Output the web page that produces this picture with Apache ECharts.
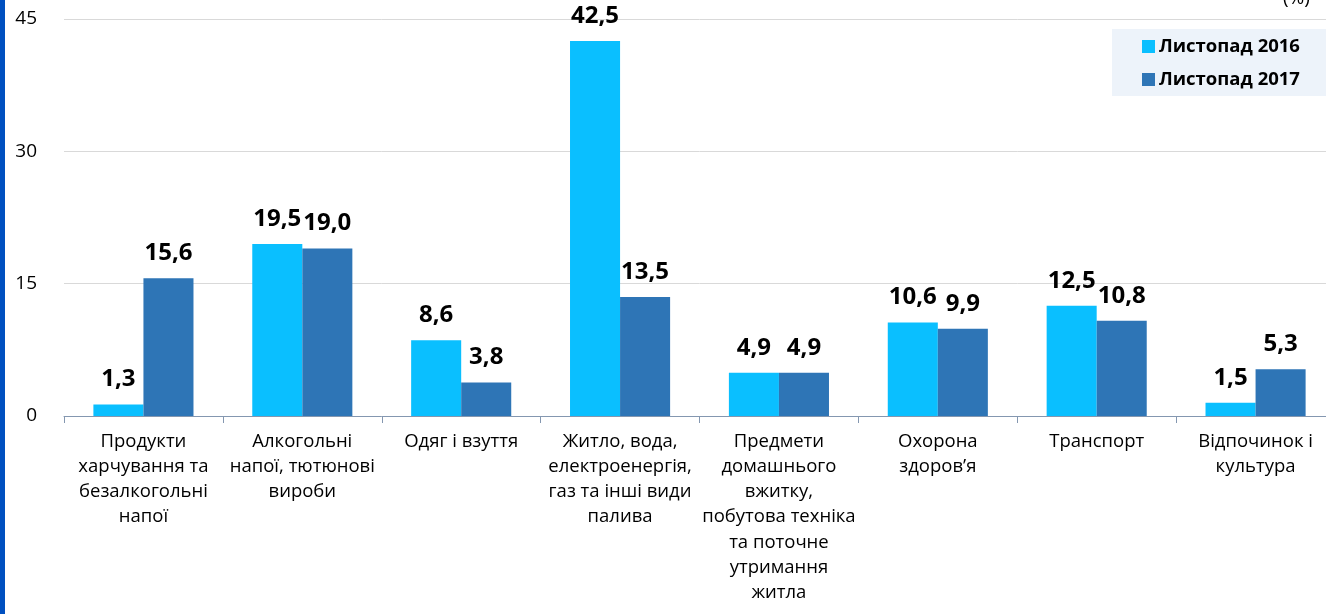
<!DOCTYPE html>
<html>
<head>
<meta charset="utf-8">
<script src="https://cdn.jsdelivr.net/npm/echarts@6/dist/echarts.min.js"></script>
<style>
html,body{margin:0;padding:0;background:#fff;overflow:hidden;width:1326px;height:614px;}
#chart{width:1340px;height:614px;}
</style>
</head>
<body>
<div id="chart"></div>
<script>
var categories = [
  'Продукти\nхарчування та\nбезалкогольні\nнапої',
  'Алкогольні\nнапої, тютюнові\nвироби',
  'Одяг і взуття',
  'Житло, вода,\nелектроенергія,\nгаз та інші види\nпалива',
  'Предмети\nдомашнього\nвжитку,\nпобутова техніка\nта поточне\nутримання\nжитла',
  'Охорона\nздоров’я',
  'Транспорт',
  'Відпочинок і\nкультура'
];
var seriesNames = ['Листопад 2016', 'Листопад 2017'];
var values2016 = [1.3, 19.5, 8.6, 42.5, 4.9, 10.6, 12.5, 1.5];
var values2017 = [15.6, 19.0, 3.8, 13.5, 4.9, 9.9, 10.8, 5.3];
var yTicks = [0, 15, 30, 45];
var unitText = '(%)';

var FONT = '"Open Sans", "DejaVu Sans", sans-serif';
var chart = echarts.init(document.getElementById('chart'), null, {renderer: 'canvas'});

function fmt(p) { return p.value.toFixed(1).replace('.', ','); }

var labelStyle = {
  show: true, position: 'top', distance: 13,
  fontFamily: FONT, fontSize: 24, fontWeight: 'bold', color: '#000',
  formatter: fmt
};

chart.setOption({
  animation: false,
  backgroundColor: '#fff',
  grid: {left: 64, width: 1271, top: 19, height: 397, containLabel: false},
  graphic: [
    {type: 'rect', left: 0, top: 0, shape: {width: 5, height: 614}, style: {fill: '#0050C0'}},
    {type: 'rect', left: 1112, top: 29, shape: {width: 230, height: 67}, style: {fill: '#EDF3FA'}, z: -1},
    {type: 'text', left: 1283, top: -11, style: {text: unitText, font: '19px ' + FONT, fill: '#000'}}
  ],
  legend: {
    orient: 'vertical', left: 1137, top: 32,
    itemWidth: 13, itemHeight: 13, itemGap: 14,
    icon: 'rect',
    textStyle: {fontFamily: FONT, fontSize: 18.5, fontWeight: 'bold', color: '#000', padding: [0, 0, 0, -1]},
    data: seriesNames
  },
  xAxis: {
    type: 'category', data: categories,
    axisLine: {lineStyle: {color: '#8497B0', width: 1}},
    axisTick: {show: true, alignWithLabel: false, length: 7, lineStyle: {color: '#8497B0'}},
    axisLabel: {
      interval: 0, margin: 13, fontFamily: FONT, fontSize: 18.5, color: '#000',
      lineHeight: 25.2, align: 'center'
    }
  },
  yAxis: {
    type: 'value', min: 0, max: 45, interval: 15,
    axisLine: {show: false}, axisTick: {show: false},
    splitLine: {lineStyle: {color: '#D9D9D9', width: 1}},
    axisLabel: {
      margin: 27, fontFamily: FONT, fontSize: 19, color: '#000',
      formatter: function (v) { return yTicks.indexOf(v) >= 0 ? String(v) : ''; }
    }
  },
  series: [
    {name: seriesNames[0], type: 'bar', data: values2016, barGap: '0%', barCategoryGap: '37%',
     itemStyle: {color: '#0ABFFF'}, label: labelStyle},
    {name: seriesNames[1], type: 'bar', data: values2017, barGap: '0%', barCategoryGap: '37%',
     itemStyle: {color: '#2E75B6'}, label: labelStyle}
  ]
});
</script>
</body>
</html>
